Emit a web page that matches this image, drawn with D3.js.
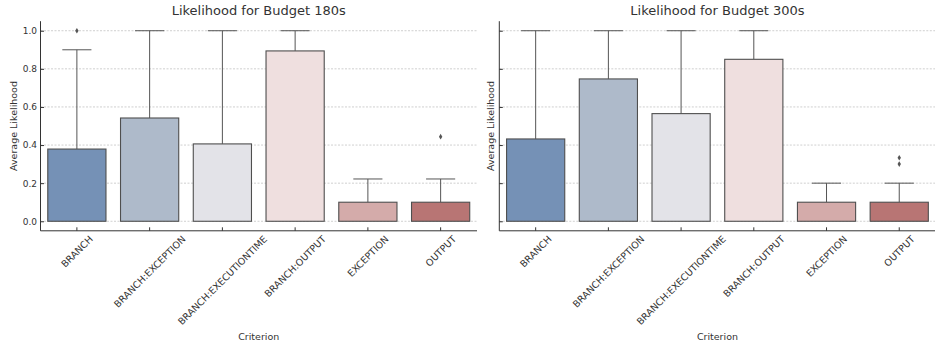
<!DOCTYPE html>
<meta charset="utf-8">
<head>
<script src="https://d3js.org/d3.v7.min.js"></script>
<style>
    body { margin: 0; background: #fff; }
    text { font-family: "DejaVu Sans", sans-serif; fill: #333; }
    .grid line { stroke: #c4c4c4; stroke-width: 0.8px; stroke-dasharray: 2,1.5; }
    .axis path, .axis line { stroke: #333; stroke-width: 1px; }
</style>
</head>
<body>
<svg width="935" height="348"></svg>
<script>
    // categories and per-budget box values (Q1 and median sit at 0)
    var categories = ["BRANCH", "BRANCH:EXCEPTION", "BRANCH:EXECUTIONTIME", "BRANCH:OUTPUT", "EXCEPTION", "OUTPUT"];
    var colors = ["#7591b6", "#aebaca", "#e3e3e8", "#efdfdf", "#d4abaa", "#b87574"];
    var yTicks = [0.0, 0.2, 0.4, 0.6, 0.8, 1.0];

    var q3_180 = [0.379, 0.542, 0.406, 0.894, 0.1, 0.1];
    var whisk_180 = [0.9, 1.0, 1.0, 1.0, 0.222, 0.222];
    var out_180 = [[1.0], [], [], [], [], [0.444]];

    var q3_300 = [0.432, 0.747, 0.565, 0.85, 0.1, 0.1];
    var whisk_300 = [1.0, 1.0, 1.0, 1.0, 0.2, 0.2];
    var out_300 = [[], [], [], [], [], [0.333, 0.3]];

    var svg = d3.select("svg");

    var panels = [
      { title: "Likelihood for Budget 180s", q3: q3_180, whisk: whisk_180, out: out_180, x0: 40.5, x1: 477, showY: true },
      { title: "Likelihood for Budget 300s", q3: q3_300, whisk: whisk_300, out: out_300, x0: 499.3, x1: 935.6, showY: false }
    ];

    var y = d3.scaleLinear().domain([-0.05, 1.05]).range([230.8, 21.2]);

    panels.forEach(function(p) {
      var x = d3.scaleBand().domain(categories).range([p.x0, p.x1]).paddingInner(0.2).paddingOuter(0.1);
      var cx = function(c) { return x(c) + x.bandwidth() / 2; };
      var g = svg.append("g");

      // grid
      g.append("g").attr("class", "grid")
        .selectAll("line").data(yTicks).enter().append("line")
        .attr("x1", p.x0).attr("x2", p.x1)
        .attr("y1", function(d) { return y(d); }).attr("y2", function(d) { return y(d); });

      // boxes
      categories.forEach(function(c, i) {
        var bx = g.append("g");
        bx.append("line")
          .attr("x1", cx(c)).attr("x2", cx(c))
          .attr("y1", y(p.q3[i])).attr("y2", y(p.whisk[i]))
          .attr("stroke", "#555").attr("stroke-width", 1);
        bx.append("line")
          .attr("x1", cx(c) - x.bandwidth() / 4).attr("x2", cx(c) + x.bandwidth() / 4)
          .attr("y1", y(p.whisk[i])).attr("y2", y(p.whisk[i]))
          .attr("stroke", "#555").attr("stroke-width", 1);
        bx.append("rect")
          .attr("x", x(c)).attr("width", x.bandwidth())
          .attr("y", y(p.q3[i])).attr("height", y(0) - y(p.q3[i]))
          .attr("fill", colors[i]).attr("stroke", "#4f4f4f").attr("stroke-width", 1.1);
        // thin diamond fliers
        bx.selectAll("path.out").data(p.out[i]).enter().append("path")
          .attr("d", "M0,-2.8L1.7,0L0,2.8L-1.7,0Z")
          .attr("transform", function(d) { return "translate(" + cx(c) + "," + y(d) + ")"; })
          .attr("fill", "#555");
      });

      // axes
      var yAxis = d3.axisLeft(y).tickValues(yTicks).tickSizeInner(-3.5).tickSizeOuter(0)
        .tickFormat(p.showY ? d3.format(".1f") : "");
      var ya = g.append("g").attr("class", "axis").attr("transform", "translate(" + p.x0 + ",0)").call(yAxis);
      ya.select(".domain").attr("d", "M0," + y(-0.05) + "V" + y(1.05));
      ya.selectAll("text").attr("x", -3.5).style("font-size", "9px").style("font-family", "DejaVu Sans").attr("fill", "#333");

      var xAxis = d3.axisBottom(x).tickSizeInner(-3.5).tickSizeOuter(0).tickFormat("");
      var xa = g.append("g").attr("class", "axis").attr("transform", "translate(0," + y(-0.05) + ")").call(xAxis);
      xa.select(".domain").attr("d", "M" + p.x0 + ",0H" + p.x1);

      // rotated tick labels, bbox centred under tick
      categories.forEach(function(c) {
        var t = g.append("text").text(c).style("font-size", "9.5px")
          .attr("text-anchor", "end");
        var L = t.node().getComputedTextLength();
        var h = 7;
        var s = Math.SQRT1_2;
        var px = cx(c) + (L * s - h * s) / 2 + h * s;
        var py = y(-0.05) + 4 + h * s;
        t.attr("transform", "translate(" + px + "," + py + ") rotate(-45)");
      });

      g.append("text").attr("x", (p.x0 + p.x1) / 2).attr("y", 15)
        .attr("text-anchor", "middle").style("font-size", "13px").text(p.title);
      g.append("text").attr("x", (p.x0 + p.x1) / 2).attr("y", 340)
        .attr("text-anchor", "middle").style("font-size", "9.5px").text("Criterion");
      g.append("text").attr("transform", "translate(" + (p.x0 - (p.showY ? 23.5 : 5.5)) + "," + y(0.5) + ") rotate(-90)")
        .attr("text-anchor", "middle").style("font-size", "9.5px").text("Average Likelihood");
    });
</script>
</body>
